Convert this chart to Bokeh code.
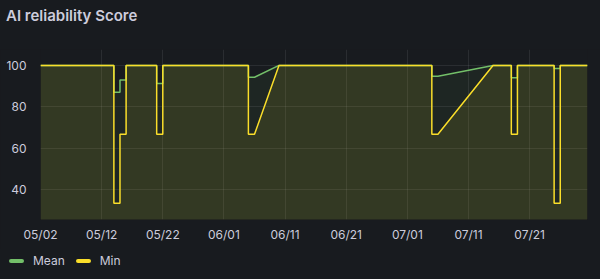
import pandas as pd
from bokeh.plotting import figure
from bokeh.layouts import column
from bokeh.models import (Range1d, FixedTicker, DatetimeTickFormatter, ColumnDataSource, Div)
from bokeh.embed import file_html
from bokeh.resources import INLINE

# ---- data ----
times = ["2024-05-02 00:00", "2024-05-14 00:00", "2024-05-14 00:00", "2024-05-15 00:00",
         "2024-05-15 00:00", "2024-05-16 00:00", "2024-05-16 00:00", "2024-05-21 00:00",
         "2024-05-21 00:00", "2024-05-22 00:00", "2024-05-22 00:00", "2024-06-05 00:00",
         "2024-06-05 00:00", "2024-06-06 00:00", "2024-06-10 00:00", "2024-07-05 00:00",
         "2024-07-05 00:00", "2024-07-06 00:00", "2024-07-15 00:00", "2024-07-18 00:00",
         "2024-07-18 00:00", "2024-07-19 00:00", "2024-07-19 00:00", "2024-07-25 00:00",
         "2024-07-25 00:00", "2024-07-26 00:00", "2024-07-26 00:00", "2024-07-30 11:00"]
mean_vals = [100, 100, 87, 87, 93, 93, 100, 100, 91.3, 91.3, 100, 100, 94.3, 94.3, 100,
             100, 94.8, 94.8, 100, 100, 94, 94, 100, 100, 98.5, 98.5, 100, 100]
min_vals = [100, 100, 33.3, 33.3, 66.7, 66.7, 100, 100, 66.7, 66.7, 100, 100, 66.7, 66.7, 100,
            100, 66.7, 66.7, 100, 100, 66.7, 66.7, 100, 100, 33.3, 33.3, 100, 100]
tick_dates = ["2024-05-02", "2024-05-12", "2024-05-22", "2024-06-01", "2024-06-11",
              "2024-06-21", "2024-07-01", "2024-07-11", "2024-07-21"]
y_ticks = [40, 60, 80, 100]
series_names = ["Mean", "Min"]
title_text = "AI reliability Score"

BG = "#181b1f"
TXT = "#ccccdc"
GREEN = "#73BF69"
YELLOW = "#FADE2A"
colors = [GREEN, YELLOW]

# ---- title ----
title_div = Div(
    text=(f'<div style="padding:7px 0 0 6px;line-height:18px;font-family:Inter;'
          f'font-size:15px;font-weight:600;color:{TXT};white-space:nowrap;">{title_text}</div>'),
    width=600, height=49, margin=0, styles={"background-color": BG})

# ---- main chart ----
t = pd.to_datetime(pd.Series(times))
src = ColumnDataSource(dict(t=t, mean=mean_vals, mn=min_vals, base=[0] * len(times)))

p = figure(width=600, height=200, x_axis_type="datetime", output_backend="svg",
           toolbar_location=None,
           x_range=Range1d(t.iloc[0], t.iloc[-1]), y_range=Range1d(25.5, 107.7),
           min_border_left=40, min_border_right=13, min_border_top=0, min_border_bottom=30)
p.background_fill_color = BG
p.border_fill_color = BG
p.outline_line_color = None

p.varea(x="t", y1="base", y2="mean", source=src, fill_color=GREEN, fill_alpha=0.07)
p.varea(x="t", y1="base", y2="mn", source=src, fill_color=YELLOW, fill_alpha=0.1)
p.line(x="t", y="mean", source=src, line_color=GREEN, line_width=1.5)
p.line(x="t", y="mn", source=src, line_color=YELLOW, line_width=1.5)

tick_ms = [pd.Timestamp(d).value // 10**6 for d in tick_dates]
p.xaxis.ticker = FixedTicker(ticks=tick_ms)
fmt = "%m/%d"
p.xaxis.formatter = DatetimeTickFormatter(days=fmt, months=fmt, hours=fmt, years=fmt,
                                          minutes=fmt, hourmin=fmt, seconds=fmt)
p.yaxis.ticker = FixedTicker(ticks=y_ticks)
for ax in (p.xaxis, p.yaxis):
    ax.axis_line_color = None
    ax.major_tick_line_color = None
    ax.minor_tick_line_color = None
    ax.major_label_text_color = TXT
    ax.major_label_text_font = "Inter"
    ax.major_label_text_font_size = "12px"
p.xaxis.major_tick_out = 0
p.xaxis.major_tick_in = 0
p.xaxis.major_label_standoff = 7
p.yaxis.major_label_standoff = 8
p.grid.grid_line_color = TXT
p.grid.grid_line_alpha = 0.1

# ---- legend ----
items = ""
for i, (name, c) in enumerate(zip(series_names, colors)):
    ml = "0" if i == 0 else "11px"
    items += (f'<span style="display:inline-block;width:15px;height:4px;border-radius:2px;'
              f'background:{c};margin:0 9px 0 {ml};"></span><span>{name}</span>')
legend_div = Div(
    text=(f'<div style="display:flex;align-items:center;height:23px;padding-left:9px;'
          f'font-family:Inter;font-size:12px;color:{TXT};white-space:nowrap;">{items}</div>'),
    width=600, height=30, margin=0, styles={"background-color": BG})

layout = column(title_div, p, legend_div, spacing=0)
html = file_html(layout, INLINE)
html = html.replace("<head>", "<head><style>html,body{background:#181b1f;margin:0;}</style>", 1)
open("out.html", "w").write(html)
